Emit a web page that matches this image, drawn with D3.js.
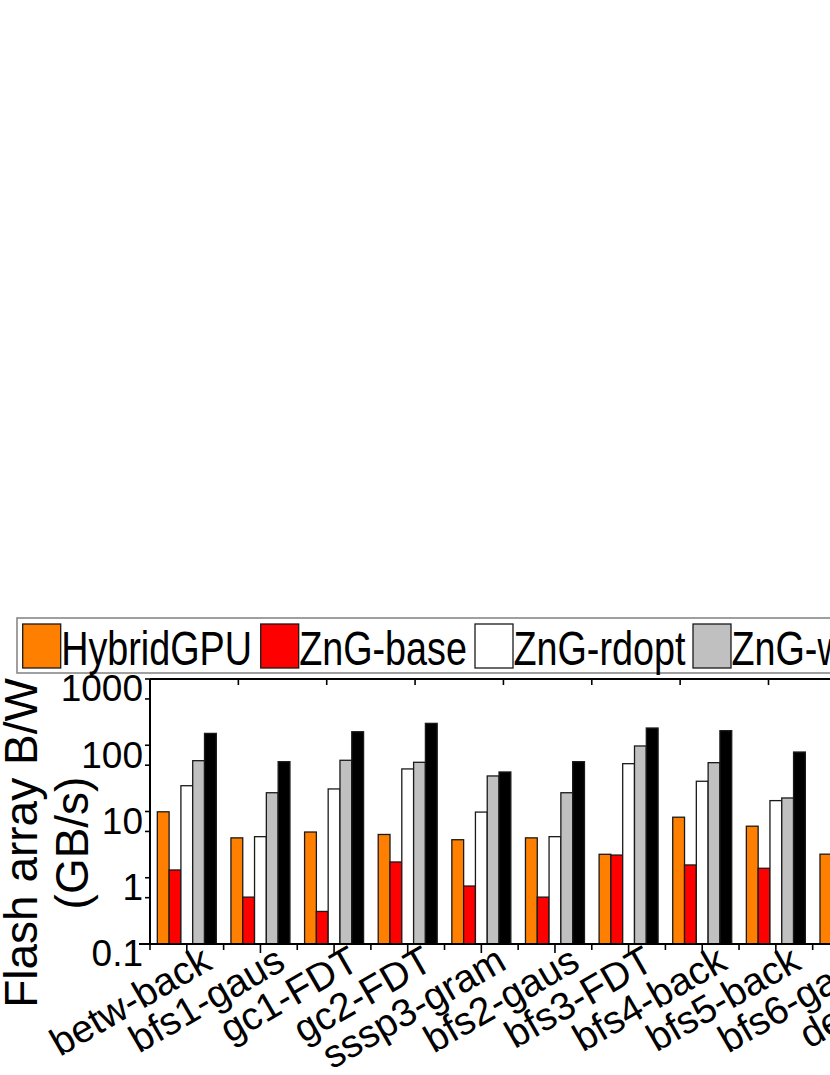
<!DOCTYPE html>
<html>
<head>
<meta charset="utf-8">
<script src="https://cdn.jsdelivr.net/npm/d3@7"></script>
<style>
  html, body { margin: 0; padding: 0; background: #fff; overflow: hidden; }
  svg { display: block; }
  text { font-family: Arial, Helvetica, "Liberation Sans", sans-serif; fill: #000; }
</style>
</head>
<body>
<div id="chart"></div>
<script>
// workloads (the figure runs past the right edge of the page)
const categories = ["betw-back", "bfs1-gaus", "gc1-FDT", "gc2-FDT", "sssp3-gram", "bfs2-gaus",
  "bfs3-FDT", "bfs4-back", "bfs5-back", "bfs6-gaus", "deg-gaus"];

const seriesNames = ["HybridGPU", "ZnG-base", "ZnG-rdopt", "ZnG-wropt", "ZnG"];
const seriesColors = ["#ff8000", "#ff0000", "#ffffff", "#c0c0c0", "#000000"];

// flash array bandwidth, GB/s
const hybridGPU = [9.9, 4.0, 4.9, 4.5, 3.75, 4.0, 2.26, 8.2, 6.0, 2.27, 3.0];
const zngBase   = [1.31, 0.51, 0.31, 1.73, 0.75, 0.51, 2.2, 1.56, 1.39, 2.0, 1.0];
const zngRdopt  = [24.5, 4.17, 21.9, 43.9, 9.8, 4.17, 52.7, 28.6, 14.6, 40, 20];
const zngWropt  = [58.5, 19.2, 59.3, 55.3, 34.4, 19.2, 97.5, 54.6, 16, 60, 50];
const zng       = [151, 56.5, 160, 214, 39.5, 56.5, 182, 166, 79, 150, 120];

const yTicks = [0.1, 1, 10, 100, 1000];
const yMinorTicks = [0.5, 5, 50, 500];

const seriesValues = [hybridGPU, zngBase, zngRdopt, zngWropt, zng];

const width = 1100;
const height = 1075;
const plotLeft = 150, plotTop = 679, plotBottom = 944;
const step = 73.63;

const svg = d3.select("#chart")
  .append("svg")
  .attr("width", width)
  .attr("height", height);

const x = d3.scaleBand()
  .domain(categories)
  .range([plotLeft, plotLeft + step * categories.length])
  .paddingInner(0.1987)
  .paddingOuter(0.0993);

const xs = d3.scaleBand()
  .domain(seriesNames)
  .range([0, x.bandwidth()]);

const y = d3.scaleLog()
  .domain([0.1, 1000])
  .range([plotBottom, plotTop]);

// top axis has its own tick spacing in the original figure
const x2 = d3.scaleLinear()
  .domain([0, categories.length * 5 / 6])
  .range([plotLeft, plotLeft + step * categories.length]);

// bars
const groups = svg.append("g")
  .selectAll("g")
  .data(categories)
  .enter().append("g")
  .attr("transform", d => `translate(${x(d)},0)`);

groups.selectAll("rect")
  .data((d, i) => seriesNames.map((s, j) => ({ s, j, v: seriesValues[j][i] })))
  .enter().append("rect")
  .attr("x", d => xs(d.s))
  .attr("y", d => y(d.v))
  .attr("width", xs.bandwidth())
  .attr("height", d => y(0.1) - y(d.v))
  .attr("fill", d => seriesColors[d.j])
  .attr("stroke", "#1a1a1a")
  .attr("stroke-width", 1.3);

// frame lines
const right = plotLeft + step * categories.length;
svg.append("line")
  .attr("x1", plotLeft).attr("x2", right)
  .attr("y1", plotTop).attr("y2", plotTop)
  .attr("stroke", "#000").attr("stroke-width", 2);
svg.append("line")
  .attr("x1", plotLeft - 11).attr("x2", right)
  .attr("y1", plotBottom).attr("y2", plotBottom)
  .attr("stroke", "#000").attr("stroke-width", 2.2);
svg.append("line")
  .attr("x1", plotLeft).attr("x2", plotLeft)
  .attr("y1", plotTop).attr("y2", plotBottom)
  .attr("stroke", "#000").attr("stroke-width", 2);

// y ticks
svg.append("g")
  .selectAll("line")
  .data(yTicks.concat(yMinorTicks))
  .enter().append("line")
  .attr("x1", plotLeft - 5).attr("x2", plotLeft)
  .attr("y1", d => y(d)).attr("y2", d => y(d))
  .attr("stroke", "#000").attr("stroke-width", 1.6);

svg.append("g")
  .selectAll("text")
  .data(yTicks)
  .enter().append("text")
  .attr("x", plotLeft - 7)
  .attr("y", d => y(d) + 9)
  .attr("dy", "0.36em")
  .attr("text-anchor", "end")
  .attr("font-size", 37)
  .text(d => d3.format("~g")(d));

// bottom ticks: at group centres and between groups
const bottomTicks = [];
categories.forEach(c => {
  bottomTicks.push({ pos: x(c) - x.step() * x.paddingInner() / 2, major: false });
  bottomTicks.push({ pos: x(c) + x.bandwidth() / 2, major: true });
});
svg.append("g")
  .selectAll("line")
  .data(bottomTicks)
  .enter().append("line")
  .attr("x1", d => d.pos).attr("x2", d => d.pos)
  .attr("y1", plotBottom).attr("y2", d => plotBottom + (d.major ? 9 : 6))
  .attr("stroke", "#000").attr("stroke-width", 1.6);

// top ticks
svg.append("g")
  .selectAll("line")
  .data(x2.ticks(categories.length))
  .enter().append("line")
  .attr("x1", d => x2(d)).attr("x2", d => x2(d))
  .attr("y1", plotTop).attr("y2", plotTop + 6)
  .attr("stroke", "#000").attr("stroke-width", 1.6);

// x labels
svg.append("g")
  .selectAll("text")
  .data(categories)
  .enter().append("text")
  .attr("transform", d => `translate(${x(d) + x.bandwidth() / 2 + 27},968) rotate(-30)`)
  .attr("text-anchor", "end")
  .attr("font-size", 39)
  .text(d => d);

// y title
const yTitle = ["Flash array B/W", "(GB/s)"];
svg.append("g")
  .selectAll("text")
  .data(yTitle)
  .enter().append("text")
  .attr("transform", (d, i) => `translate(${37 + i * 51},843) rotate(-90)`)
  .attr("text-anchor", "middle")
  .attr("font-size", 46)
  .text(d => d);

// legend
const legendX = [22.7, 260.7, 475, 693, 930];
const legend = svg.append("g").attr("id", "legend");
legend.append("rect")
  .attr("x", 17).attr("y", 618)
  .attr("width", 1070).attr("height", 55)
  .attr("fill", "#fff")
  .attr("stroke", "#808080")
  .attr("stroke-width", 1.5);

const legendItems = legend.selectAll("g")
  .data(seriesNames)
  .enter().append("g")
  .attr("transform", (d, i) => `translate(${legendX[i]},624)`);

legendItems.append("rect")
  .attr("width", 38)
  .attr("height", 44)
  .attr("fill", (d, i) => seriesColors[i])
  .attr("stroke", "#1a1a1a")
  .attr("stroke-width", 1.3);

legendItems.append("text")
  .attr("transform", "translate(38.5,41) scale(0.77,1)")
  .attr("font-size", 49)
  .text(d => d);
</script>
</body>
</html>
